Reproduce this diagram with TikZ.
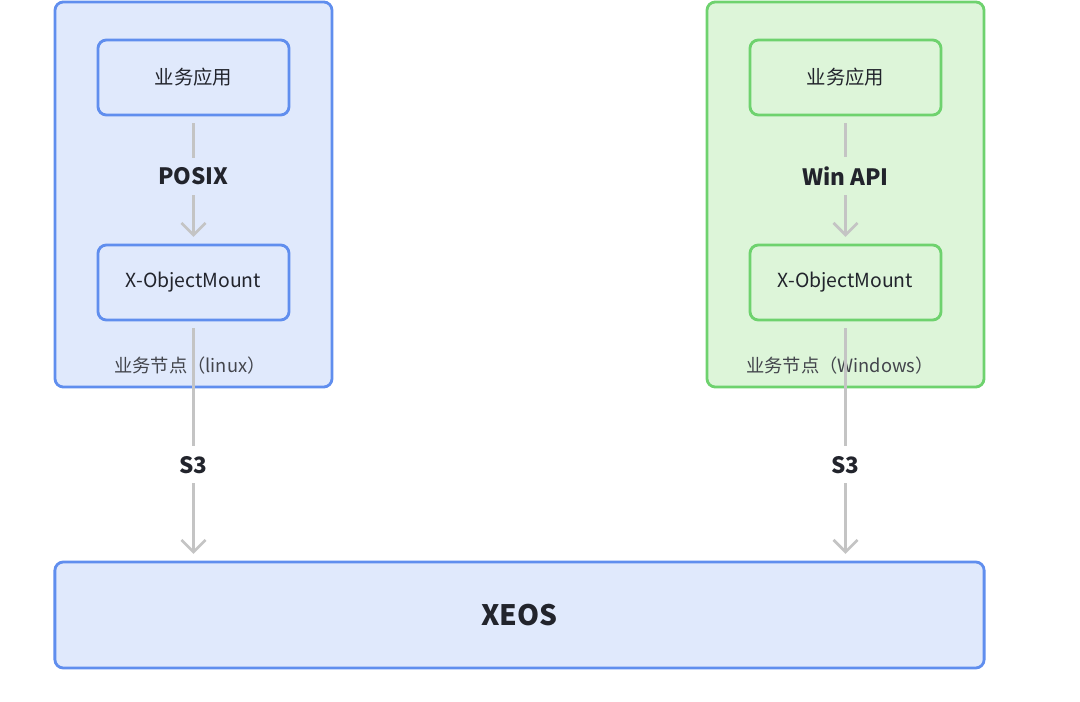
\documentclass[tikz,border=0pt]{standalone}
\usepackage{fontspec}
\setmainfont{Noto Sans CJK SC}
\usetikzlibrary{arrows.meta,positioning}
\definecolor{edgeblue}{RGB}{96,142,238}
\definecolor{fillblue}{RGB}{224,233,252}
\definecolor{edgegreen}{RGB}{110,210,110}
\definecolor{fillgreen}{RGB}{221,245,217}
\definecolor{linkgrey}{RGB}{196,196,196}
\definecolor{inkdark}{RGB}{34,36,44}
\tikzset{
  nodo/.style={
    rounded corners=6pt,
    line width=2pt,
    align=center,
    inner sep=0pt,
    text=inkdark
  },
  grupo/.style={
    nodo,
    minimum width=6.925cm,
    minimum height=9.625cm
  },
  caja/.style={
    nodo,
    minimum width=4.775cm,
    minimum height=1.875cm,
    font=\fontsize{13.8pt}{16pt}\selectfont
  },
  etiqueta/.style={
    text=inkdark,
    inner xsep=2pt,
    inner ysep=7pt,
    font=\fontsize{16pt}{18pt}\selectfont\bfseries
  },
  nota/.style={
    text=inkdark!85,
    inner sep=0pt,
    font=\fontsize{13pt}{15pt}\selectfont
  },
  enlace/.style={
    -{Straight Barb[length=3mm,width=6mm,line width=1.9pt]},
    line width=1.9pt,
    linkgrey,
    shorten <=0.17cm,
    shorten >=0.17cm
  }
}

\begin{document}
\begin{tikzpicture}[x=0.025cm,y=-0.025cm]
\useasboundingbox (0,0) rectangle (1080,702);
% grupos
\node[grupo,draw=edgeblue,fill=fillblue] (linux) at (193.5,194.5) {};
\node[grupo,draw=edgegreen,fill=fillgreen] (win) at (845.5,194.5) {};
\node[nodo,draw=edgeblue,fill=fillblue,minimum width=23.225cm,minimum height=2.65cm,
  font=\fontsize{20pt}{22pt}\selectfont\bfseries] (xeos) at (519.5,615) {XEOS};
% linux
\node[caja,draw=edgeblue,fill=fillblue] (appA) at (193.5,77.5) {业务应用};
\node[caja,draw=edgeblue,fill=fillblue] (mountA) at (193.5,282.5) {X-ObjectMount};
\node[nota] (notaA) at (190,366) {业务节点（linux）};
% windows
\node[caja,draw=edgegreen,fill=fillgreen] (appB) at (845.5,77.5) {业务应用};
\node[caja,draw=edgegreen,fill=fillgreen] (mountB) at (845.5,282.5) {X-ObjectMount};
\node[nota] (notaB) at (840,366) {业务节点（Windows）};
% enlaces
\draw[enlace] (appA) -- node[etiqueta,fill=fillblue,pos=0.47] {POSIX} (mountA);
\draw[enlace] (appB) -- node[etiqueta,fill=fillgreen,pos=0.47] {Win API} (mountB);
\draw[enlace] (mountA) -- node[etiqueta,fill=white,pos=0.6] {S3} (xeos.north -| mountA);
\draw[enlace] (mountB) -- node[etiqueta,fill=white,pos=0.6] {S3} (xeos.north -| mountB);
\end{tikzpicture}
\end{document}
